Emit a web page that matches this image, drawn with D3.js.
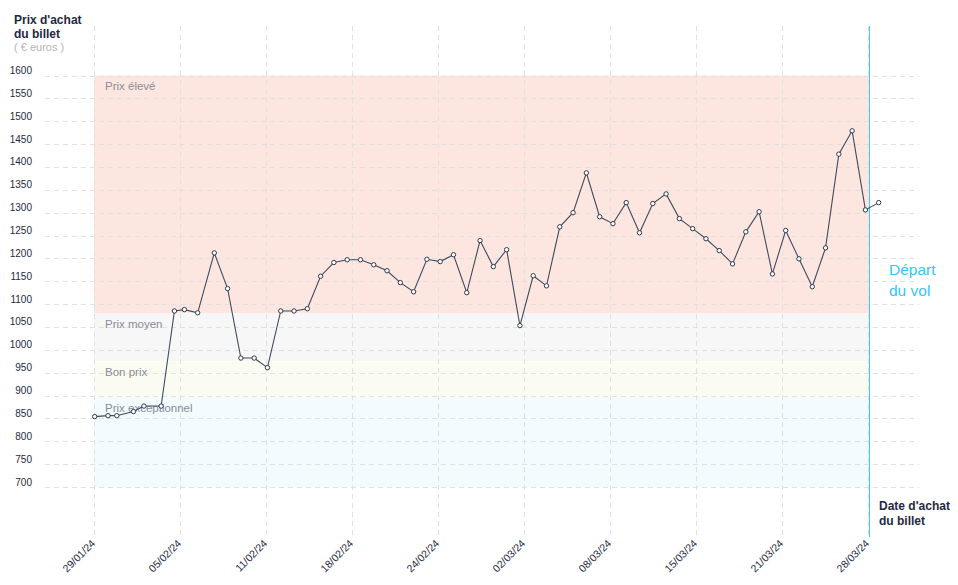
<!DOCTYPE html>
<html>
<head>
<meta charset="utf-8">
<script src="https://cdn.jsdelivr.net/npm/d3@7"></script>
<style>
  body { margin: 0; background: #fff; }
  svg { display: block; font-family: "Liberation Sans", Arial, sans-serif; }
</style>
</head>
<body>
<script>
// dates d'achat (UTC) et prix relevés
const purchaseDates = [
  "2024-01-29T00:00", "2024-01-30T00:00", "2024-01-30T16:00", "2024-01-31T22:00",
  "2024-02-01T17:00", "2024-02-03T00:00", "2024-02-04T00:00", "2024-02-04T18:00",
  "2024-02-05T18:00", "2024-02-07T00:00", "2024-02-08T00:00", "2024-02-09T00:00",
  "2024-02-10T00:00", "2024-02-11T00:00", "2024-02-12T00:00", "2024-02-13T00:00",
  "2024-02-14T00:00", "2024-02-15T00:00", "2024-02-16T00:00", "2024-02-17T00:00",
  "2024-02-18T00:00", "2024-02-19T00:00", "2024-02-20T00:00", "2024-02-21T00:00",
  "2024-02-22T00:00", "2024-02-23T00:00", "2024-02-24T00:00", "2024-02-25T00:00",
  "2024-02-26T00:00", "2024-02-27T00:00", "2024-02-28T00:00", "2024-02-29T00:00",
  "2024-03-01T00:00", "2024-03-02T00:00", "2024-03-03T00:00", "2024-03-04T00:00",
  "2024-03-05T00:00", "2024-03-06T00:00", "2024-03-07T00:00", "2024-03-08T00:00",
  "2024-03-09T00:00", "2024-03-10T00:00", "2024-03-11T00:00", "2024-03-12T00:00",
  "2024-03-13T00:00", "2024-03-14T00:00", "2024-03-15T00:00", "2024-03-16T00:00",
  "2024-03-17T00:00", "2024-03-18T00:00", "2024-03-19T00:00", "2024-03-20T00:00",
  "2024-03-21T00:00", "2024-03-22T00:00", "2024-03-23T00:00", "2024-03-24T00:00",
  "2024-03-25T00:00", "2024-03-26T00:00", "2024-03-27T00:00", "2024-03-28T00:00"
];

const prices = [
  854, 856, 856, 865, 877, 877, 1085, 1088, 1081, 1212,
  1134, 982, 982, 961, 1085, 1085, 1090, 1161, 1191, 1197,
  1197, 1186, 1173, 1147, 1127, 1198, 1193, 1208, 1125, 1239,
  1182, 1219, 1053, 1162, 1140, 1269, 1300, 1387, 1291, 1276,
  1322, 1256, 1320, 1341, 1287, 1265, 1243, 1217, 1188, 1258,
  1302, 1166, 1261, 1199, 1138, 1223, 1428, 1479, 1306, 1322
];

const xTickLabels = [
  "29/01/24", "05/02/24", "11/02/24", "18/02/24", "24/02/24",
  "02/03/24", "08/03/24", "15/03/24", "21/03/24", "28/03/24"
];

const yTickValues = [
  700, 750, 800, 850, 900, 950, 1000, 1050, 1100, 1150,
  1200, 1250, 1300, 1350, 1400, 1450, 1500, 1550, 1600
];

// zones de prix
const zoneNames = ["Prix élevé", "Prix moyen", "Bon prix", "Prix exceptionnel"];
const zoneTops = [1600, 1080, 975, 895];
const zoneBottoms = [1080, 975, 895, 700];

const width = 958;
const height = 585;
const navy = "#1e2a42";
const zoneColors = ["#fde6e0", "#f7f7f7", "#fbfcf1", "#f2fbfd"];

const parseDate = d3.utcParse("%Y-%m-%dT%H:%M");
const data = purchaseDates.map((d, i) => ({ date: parseDate(d), price: prices[i] }));

const svg = d3
  .select("body")
  .append("svg")
  .attr("width", width)
  .attr("height", height);

const x = d3
  .scaleUtc()
  .domain([parseDate("2024-01-29T00:00"), parseDate("2024-03-28T00:00")])
  .range([94.7, 878.7]);

const xTick = d3.scalePoint().domain(xTickLabels).range([94, 868]);

const y = d3.scaleLinear().domain([700, 1600]).range([487, 75.5]);

// zones
svg
  .selectAll("rect.zone")
  .data(zoneNames)
  .enter()
  .append("rect")
  .attr("class", "zone")
  .attr("x", xTick.range()[0])
  .attr("width", xTick.range()[1] - xTick.range()[0] + 1)
  .attr("y", (d, i) => y(zoneTops[i]))
  .attr("height", (d, i) => y(zoneBottoms[i]) - y(zoneTops[i]))
  .style("fill", (d, i) => zoneColors[i]);

// grille horizontale
svg
  .append("g")
  .selectAll("line")
  .data(yTickValues)
  .enter()
  .append("line")
  .attr("x1", 45)
  .attr("x2", 919)
  .attr("y1", (d) => Math.round(y(d)) + 0.5)
  .attr("y2", (d) => Math.round(y(d)) + 0.5)
  .attr("stroke", "#e1e1e1")
  .attr("stroke-dasharray", "5,4");

// grille verticale
svg
  .append("g")
  .selectAll("line")
  .data(xTickLabels)
  .enter()
  .append("line")
  .attr("x1", (d) => Math.round(xTick(d)) + 0.5)
  .attr("x2", (d) => Math.round(xTick(d)) + 0.5)
  .attr("y1", 26)
  .attr("y2", 537)
  .attr("stroke", "#e1e1e1")
  .attr("stroke-dasharray", "5,4");

// libellés des zones
svg
  .selectAll("text.zone-label")
  .data(zoneNames)
  .enter()
  .append("text")
  .attr("class", "zone-label")
  .attr("x", 105)
  .attr("y", (d, i) => y(zoneTops[i]) + 14.5)
  .attr("fill", "#878c98")
  .style("font-size", "11.5px")
  .text((d) => d);

// axe y
svg
  .selectAll("text.ytick")
  .data(yTickValues)
  .enter()
  .append("text")
  .attr("class", "ytick")
  .attr("x", 32)
  .attr("y", (d) => y(d) - 1.5)
  .attr("text-anchor", "end")
  .attr("fill", navy)
  .style("font-size", "10px")
  .text((d) => d);

// axe x
svg
  .selectAll("text.xtick")
  .data(xTickLabels)
  .enter()
  .append("text")
  .attr("class", "xtick")
  .attr("transform", (d) => `translate(${xTick(d) + 2}, 544) rotate(-45)`)
  .attr("text-anchor", "end")
  .attr("fill", navy)
  .style("font-size", "10.5px")
  .text((d) => d);

// ligne de départ du vol
svg
  .append("line")
  .attr("x1", 869.5)
  .attr("x2", 869.5)
  .attr("y1", 26)
  .attr("y2", 537)
  .attr("stroke", "#45c8f2")
  .attr("stroke-width", 1);

svg
  .append("text")
  .attr("x", 889)
  .attr("fill", "#35c6f4")
  .style("font-size", "15.5px")
  .selectAll("tspan")
  .data(["Départ", "du vol"])
  .enter()
  .append("tspan")
  .attr("x", 889)
  .attr("y", (d, i) => 275 + i * 20.5)
  .text((d) => d);

// courbe
const line = d3
  .line()
  .x((d) => x(d.date))
  .y((d) => y(d.price));

svg
  .append("path")
  .datum(data)
  .attr("d", line)
  .attr("fill", "none")
  .attr("stroke", "#3f4b5f")
  .attr("stroke-width", 1.1);

svg
  .selectAll("circle")
  .data(data)
  .enter()
  .append("circle")
  .attr("cx", (d) => x(d.date))
  .attr("cy", (d) => y(d.price))
  .attr("r", 2.2)
  .attr("fill", "#fff")
  .attr("stroke", "#2e3a4f")
  .attr("stroke-width", 1);

// titres des axes
const yTitle = svg.append("g").attr("fill", navy).style("font-size", "12px").style("font-weight", "bold");
yTitle.append("text").attr("x", 14).attr("y", 23.5).text("Prix d'achat");
yTitle.append("text").attr("x", 14).attr("y", 38).text("du billet");
svg
  .append("text")
  .attr("x", 14)
  .attr("y", 51)
  .attr("fill", "#b4b4b4")
  .style("font-size", "11px")
  .text("( € euros )");

const xTitle = svg.append("g").attr("fill", navy).style("font-size", "12px").style("font-weight", "bold");
xTitle.append("text").attr("x", 879).attr("y", 509.5).text("Date d'achat");
xTitle.append("text").attr("x", 879).attr("y", 524.5).text("du billet");
</script>
</body>
</html>
